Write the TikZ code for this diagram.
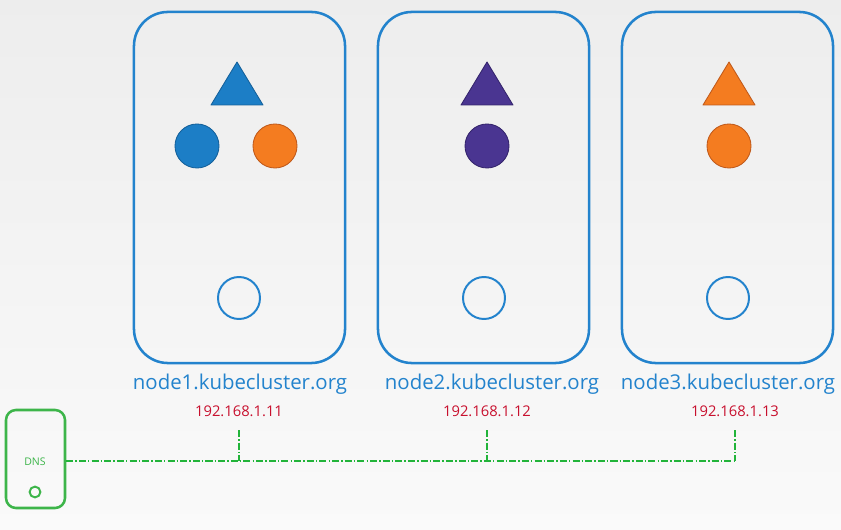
\documentclass[tikz,border=0pt]{standalone}
\usepackage{fontspec}
\newfontfamily\labelfont{Open Sans}
\usetikzlibrary{positioning, calc}

\definecolor{boxblue}{HTML}{2383CD}
\definecolor{podblue}{HTML}{1C7EC6}
\definecolor{podblueline}{HTML}{14609A}
\definecolor{podorange}{HTML}{F47C20}
\definecolor{podorangeline}{HTML}{C0591A}
\definecolor{podpurple}{HTML}{4A3591}
\definecolor{podpurpleline}{HTML}{34246C}
\definecolor{iprred}{HTML}{C8102E}
\definecolor{dnsgreen}{HTML}{3DB54A}
\definecolor{linkgreen}{HTML}{22B43A}

\tikzset{
  hostbox/.style={draw=boxblue, line width=1.8pt, rounded corners=0.85cm,
    minimum width=5.275cm, minimum height=8.775cm},
  pod/.style={circle, line width=0.6pt, minimum size=1.1cm, inner sep=0pt},
  svc/.style={circle, draw=boxblue, line width=1.4pt, minimum size=1.05cm, inner sep=0pt},
  hostname/.style={text=boxblue, font=\labelfont\fontsize{14.5}{16}\selectfont},
  hostip/.style={text=iprred, font=\labelfont\fontsize{10.5}{12}\selectfont},
  link/.style={draw=linkgreen, line width=0.9pt, dash pattern=on 5pt off 1.5pt on 1pt off 1.5pt}
}

\begin{document}
\begin{tikzpicture}[x=0.025cm, y=-0.025cm, line join=round]
  % background
  \shade[top color=black!7, bottom color=black!2] (0,0) rectangle (841,530);
  \useasboundingbox (0,0) rectangle (841,530);

  % hosts
  \node[hostbox] (box1) at (239.5,187.5) {};
  \node[hostbox] (box2) at (483.5,187.5) {};
  \node[hostbox] (box3) at (727.5,187.5) {};

  % node 1
  \filldraw[fill=podblue, draw=podblueline, line width=0.6pt] (211,105) -- (237,62) -- (263,105) -- cycle;
  \node[pod, fill=podblue, draw=podblueline] (pod1a) at (197,146) {};
  \node[pod, fill=podorange, draw=podorangeline] (pod1b) at (275,146) {};
  \node[svc] (svc1) at (239,298) {};

  % node 2
  \filldraw[fill=podpurple, draw=podpurpleline, line width=0.6pt] (461,105) -- (487,62) -- (513,105) -- cycle;
  \node[pod, fill=podpurple, draw=podpurpleline] (pod2a) at (487,146) {};
  \node[svc] (svc2) at (484,298) {};

  % node 3
  \filldraw[fill=podorange, draw=podorangeline, line width=0.6pt] (703,105) -- (729,62) -- (755,105) -- cycle;
  \node[pod, fill=podorange, draw=podorangeline] (pod3a) at (729,146) {};
  \node[svc] (svc3) at (728,298) {};

  % labels
  \node[hostname] (name1) at (240,384) {node1.kubecluster.org};
  \node[hostname] (name2) at (492,384) {node2.kubecluster.org};
  \node[hostname] (name3) at (728,384) {node3.kubecluster.org};
  \node[hostip] (ip1) at (239,411) {192.168.1.11};
  \node[hostip] (ip2) at (487,411) {192.168.1.12};
  \node[hostip] (ip3) at (735,411) {192.168.1.13};

  % dns server
  \node[draw=dnsgreen, line width=1.8pt, rounded corners=0.25cm,
    minimum width=1.475cm, minimum height=2.45cm] (dns) at (35.5,459) {};
  \node[text=dnsgreen, font=\labelfont\fontsize{7.5}{8}\selectfont] (dnslabel) at (35,462) {DNS};
  \node[circle, draw=dnsgreen, line width=1.4pt, minimum size=0.27cm, inner sep=0pt] (dnsport) at (35,492) {};

  % network
  \coordinate (t1) at (239,430);
  \coordinate (t2) at (487,430);
  \coordinate (t3) at (735,430);
  \coordinate (j1) at (239,461);
  \coordinate (j2) at (487,461);
  \coordinate (j3) at (735,461);
  \draw[link] (dns.east |- j1) -- (j3);
  \draw[link] (t1) -- (j1);
  \draw[link] (t2) -- (j2);
  \draw[link] (t3) -- (j3);
\end{tikzpicture}
\end{document}
